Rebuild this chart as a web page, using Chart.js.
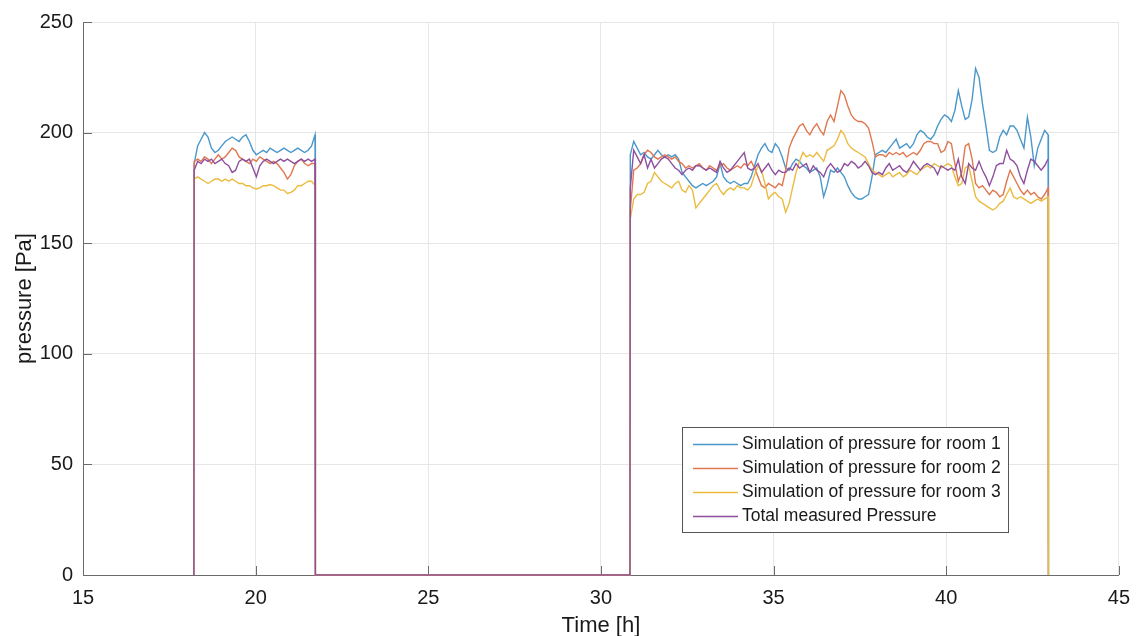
<!DOCTYPE html>
<html>
<head>
<meta charset="utf-8">
<script src="https://cdn.jsdelivr.net/npm/chart.js@4/dist/chart.umd.min.js"></script>
<style>
  html, body { margin: 0; padding: 0; background: #fff; }
  #wrap { width: 1141px; height: 636px; }
</style>
</head>
<body>
<div id="wrap"><canvas id="pressureChart" width="1141" height="636"></canvas></div>
<script>
// time grid (hours) - samples every 0.1 h inside each occupied period
const seg1Start = 18.22, seg2Start = 30.85, step = 0.1;
const edgeTimes = [18.21, 21.73, 30.84, 42.96]; // rise / fall of each period (value 0)

const xTicks = [15, 20, 25, 30, 35, 40, 45];
const yTicks = [0, 50, 100, 150, 200, 250];

const labels = [
  "Simulation of pressure for room 1",
  "Simulation of pressure for room 2",
  "Simulation of pressure for room 3",
  "Total measured Pressure",
];
const colors = ["#4a97cb", "#e0774e", "#ebbb3e", "#8f4f9e"];

// first period 18.2 h - 21.7 h
const room1Seg1 = [186,194,197,200,198,193,191,192,194,196, 197,198,197,196,198,199,196,192,190,191,
  192,191,193,192,191,192,193,192,191,192, 193,192,191,192,194,199];
const room2Seg1 = [187,188,187,189,188,186,188,190,188,189, 191,193,192,189,188,187,186,188,187,189,
  188,187,186,187,186,184,182,179,181,185, 187,188,186,185,186,186];
const room3Seg1 = [179,180,179,178,177,178,179,179,178,179, 178,179,178,177,177,176,176,175,174.5,175,
  176,176,176.5,176,175,174,174,172.5,173,174, 176,176,177,178,178,176];
const measuredSeg1 = [183,187,186,188,187,188,186,187,188,186, 185,182,183,187,188,187,188,184,180,185,
  187,188,187,186,187,188,187,188,187,186, 187,188,187,188,187,188];

// second period 30.85 h - 42.95 h
const room1Seg2 = [
  190,196,193,190,191,189,188,190,192,190, 189,190,189,190,188,182,180,178,176,175,
  176,177,176,177,178,180,186,180,178,177, 178,177,176,177,177,180,185,190,193,195,
  192,191,195,193,189,184,183,186,188,187, 185,184,182,183,184,180,171,176,183,182,
  184,182,180,176,173,171,170,170,171,172, 180,190,191,192,191,193,195,197,193,194,
  195,193,195,199,201,200,198,197,199,203, 206,208,207,205,210,219,212,206,207,215,
  229,225,213,203,192,191,192,198,201,199, 203,203,201,197,193,207,198,185,193,197,
  201,199];
const room2Seg2 = [
  165,183,184,186,190,192,191,189,188,189, 190,189,188,189,187,186,184,185,184,185,
  186,184,183,185,184,183,185,186,184,183, 184,185,184,186,185,187,184,180,176,175,
  177,176,175,177,176,183,193,197,200,203, 204,201,199,202,204,201,199,205,208,205,
  212,219,217,212,208,206,205,205,204,202, 196,189,190,190,189,191,190,191,190,191,
  189,190,191,190,192,195,196,196,195,195, 191,192,196,195,186,178,182,194,195,188,
  177,175,176,174,172,174,173,171,172,178, 183,180,177,174,172,174,172,173,171,170,
  172,175];
const room3Seg2 = [
  161,170,172,172,173,177,178,182,180,178, 177,176,175,177,178,174,173,176,174,166,
  168,170,172,174,176,177,174,172,174,175, 174,176,175,175,174,176,181,185,183,177,
  170,172,173,171,170,164,168,175,182,187, 191,189,190,189,191,189,187,192,193,194,
  197,201,199,195,193,192,191,190,189,186, 183,182,181,180,181,182,180,181,182,180,
  181,183,182,181,183,184,185,184,186,185, 184,185,186,185,180,176,177,184,185,178,
  171,169,168,167,166,165,166,168,169,172, 175,171,170,171,170,169,168,169,170,169,
  170,171];
const measuredSeg2 = [
  175,192,189,186,190,184,188,184,186,188, 189,188,186,184,183,181,183,184,183,185,
  185,184,183,184,183,182,187,184,182,183, 185,187,189,191,184,183,184,186,182,184,
  186,183,181,183,182,182,184,183,186,184, 185,186,182,185,183,182,180,184,186,184,
  182,183,186,185,187,186,184,185,187,185, 182,181,182,181,184,186,183,184,185,183,
  182,184,187,185,183,185,186,185,184,181, 185,184,183,184,183,188,180,177,186,184,
  183,187,183,180,176,180,185,186,186,192, 188,187,185,180,177,183,188,187,185,183,
  185,188];

function buildPoints(seg1, seg2, dropAtEnd) {
  const pts = [{ x: edgeTimes[0], y: 0 }];
  seg1.forEach((v, i) => pts.push({ x: +(seg1Start + i * step).toFixed(2), y: v }));
  pts.push({ x: edgeTimes[1], y: 0 }, { x: edgeTimes[2], y: 0 });
  seg2.forEach((v, i) => pts.push({ x: +(seg2Start + i * step).toFixed(2), y: v }));
  if (dropAtEnd) pts.push({ x: edgeTimes[3], y: 0 });
  return pts;
}

const series = [
  buildPoints(room1Seg1, room1Seg2, true),
  buildPoints(room2Seg1, room2Seg2, true),
  buildPoints(room3Seg1, room3Seg2, true),
  buildPoints(measuredSeg1, measuredSeg2, false),
];

const tickFont = { family: "'Liberation Sans', Arial, sans-serif", size: 20 };
const titleFont = { family: "'Liberation Sans', Arial, sans-serif", size: 22 };

// inward tick marks on left and bottom axes
const tickMarks = {
  id: "tickMarks",
  beforeDatasetsDraw(chart) {
    const { ctx, chartArea: a, scales } = chart;
    ctx.save();
    ctx.strokeStyle = "#6b6b6b";
    ctx.lineWidth = 1;
    ctx.beginPath();
    xTicks.forEach(t => {
      const x = Math.round(scales.x.getPixelForValue(t)) + 0.5;
      ctx.moveTo(x, a.bottom);
      ctx.lineTo(x, a.bottom - 9);
    });
    yTicks.forEach(t => {
      const y = Math.round(scales.y.getPixelForValue(t)) + 0.5;
      ctx.moveTo(a.left, y);
      ctx.lineTo(a.left + 9, y);
    });
    ctx.stroke();
    ctx.restore();
  },
};

// legend box inside the plot, lower right
const boxLegend = {
  id: "boxLegend",
  afterDraw(chart) {
    const ctx = chart.ctx;
    const bx = 682.5, by = 427.5, bw = 326, bh = 105;
    ctx.save();
    ctx.fillStyle = "#fff";
    ctx.fillRect(bx, by, bw, bh);
    ctx.strokeStyle = "#555";
    ctx.lineWidth = 1;
    ctx.strokeRect(bx, by, bw, bh);
    ctx.font = "17.5px 'Liberation Sans', Arial, sans-serif";
    ctx.textBaseline = "middle";
    ctx.fillStyle = "#1a1a1a";
    labels.forEach((lab, i) => {
      const y = 444 + i * 24;
      ctx.strokeStyle = colors[i];
      ctx.lineWidth = 1.3;
      ctx.beginPath();
      ctx.moveTo(693, y + 0.5);
      ctx.lineTo(738, y + 0.5);
      ctx.stroke();
      ctx.fillText(lab, 742, y);
    });
    ctx.restore();
  },
};

const ctx = document.getElementById("pressureChart").getContext("2d");
new Chart(ctx, {
  type: "line",
  data: {
    datasets: series.map((pts, i) => ({
      label: labels[i],
      data: pts,
      borderColor: colors[i],
      borderWidth: 1.4,
      pointRadius: 0,
      tension: 0,
      fill: false,
      clip: false,
      order: 3 - i, // measured pressure drawn on top
    })),
  },
  options: {
    responsive: false,
    animation: false,
    layout: { padding: { left: 0, right: 18, top: 21, bottom: 0 } },
    scales: {
      x: {
        type: "linear",
        min: 15,
        max: 45,
        afterBuildTicks: s => { s.ticks = xTicks.map(v => ({ value: v })); },
        afterFit: s => { s.height = 61; },
        ticks: { font: tickFont, color: "#1a1a1a", padding: 11, maxRotation: 0 },
        grid: { color: "#e6e6e6", drawTicks: false },
        border: { color: "#6b6b6b", width: 1 },
        title: { display: true, text: "Time [h]", font: titleFont, color: "#1a1a1a", padding: { top: 0, bottom: -3 } },
      },
      y: {
        min: 0,
        max: 250,
        afterBuildTicks: s => { s.ticks = yTicks.map(v => ({ value: v })); },
        afterFit: s => { s.width = 83; },
        ticks: { font: tickFont, color: "#1a1a1a", padding: 10 },
        grid: { color: "#e6e6e6", drawTicks: false },
        border: { color: "#6b6b6b", width: 1 },
        title: { display: true, text: "pressure [Pa]", font: titleFont, color: "#1a1a1a", padding: { top: 12, bottom: 0 } },
      },
    },
    plugins: {
      legend: { display: false },
      tooltip: { enabled: false },
    },
  },
  plugins: [tickMarks, boxLegend],
});
</script>
</body>
</html>
